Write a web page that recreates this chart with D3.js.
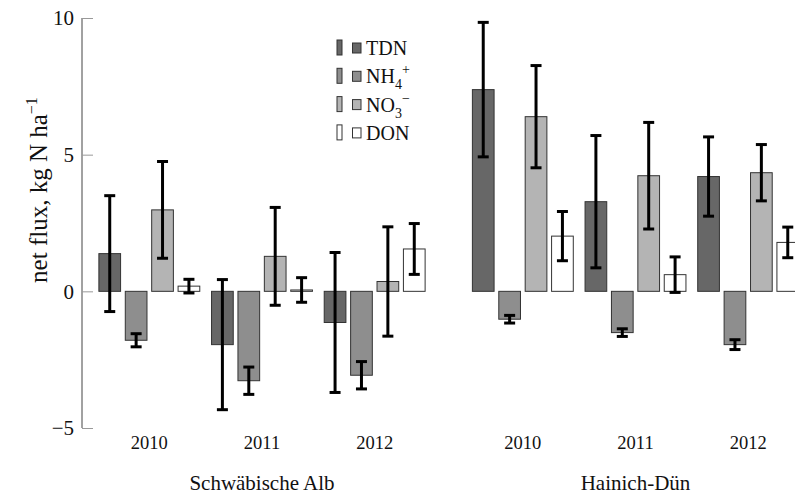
<html>
<head>
<meta charset="utf-8">
<script src='https://d3js.org/d3.v7.min.js'></script>
</head>
<body style="margin:0;background:white">
<svg width=795 height=495 font-family="Liberation Serif"></svg>
<script>
// categories
var years = ["2010", "2011", "2012"];
var sites = ["Schwäbische Alb", "Hainich-Dün"];
var series = ["TDN", "NH4", "NO3", "DON"];
var yTicks = [-5, 0, 5, 10];

// means, one array per site and series (order: 2010, 2011, 2012)
var albTDN = [1.38, -1.95, -1.14];
var albNH4 = [-1.79, -3.27, -3.07];
var albNO3 = [2.98, 1.28, 0.36];
var albDON = [0.19, 0.05, 1.55];
var haiTDN = [7.38, 3.28, 4.20];
var haiNH4 = [-1.02, -1.51, -1.95];
var haiNO3 = [6.39, 4.23, 4.34];
var haiDON = [2.02, 0.61, 1.79];

// error bar half-widths
var albTDNerr = [2.12, 2.38, 2.56];
var albNH4err = [0.24, 0.50, 0.50];
var albNO3err = [1.77, 1.79, 2.00];
var albDONerr = [0.25, 0.45, 0.93];
var haiTDNerr = [2.46, 2.42, 1.45];
var haiNH4err = [0.14, 0.14, 0.18];
var haiNO3err = [1.87, 1.95, 1.03];
var haiDONerr = [0.90, 0.65, 0.56];

var FONT = "Liberation Serif";

var svg = d3.select('svg');
var fills = {TDN: '#676767', NH4: '#8e8e8e', NO3: '#b4b4b4', DON: '#ffffff'};

var y = d3.scaleLinear().domain([-5, 10]).range([428, 18]);

var panels = [
  {name: sites[0], range: [93, 431],
   vals: [albTDN, albNH4, albNO3, albDON], errs: [albTDNerr, albNH4err, albNO3err, albDONerr]},
  {name: sites[1], range: [466.5, 804.5],
   vals: [haiTDN, haiNH4, haiNO3, haiDON], errs: [haiTDNerr, haiNH4err, haiNO3err, haiDONerr]}
];

var inner = d3.scaleBand().domain(series).range([-50.45, 50.45]).paddingInner(0.178).paddingOuter(0);

panels.forEach(function(p) {
  var x = d3.scaleBand().domain(years).range(p.range);
  var rows = [];
  series.forEach(function(s, si) {
    years.forEach(function(yr, yi) {
      rows.push({s: s, yr: yr, v: p.vals[si][yi], e: p.errs[si][yi]});
    });
  });
  var cx = function(d) { return x(d.yr) + x.bandwidth() / 2 + inner(d.s); };

  var g = svg.append('g');
  g.selectAll('rect').data(rows).enter().append('rect')
    .attr('x', cx)
    .attr('width', inner.bandwidth())
    .attr('y', function(d) { return y(Math.max(0, d.v)); })
    .attr('height', function(d) { return Math.abs(y(d.v) - y(0)); })
    .attr('fill', function(d) { return fills[d.s]; })
    .attr('stroke', '#333').attr('stroke-width', 1);

  var eb = g.selectAll('g.err').data(rows).enter().append('g').attr('class', 'err')
    .attr('stroke', '#000').attr('stroke-width', 3);
  eb.append('line')
    .attr('x1', function(d) { return cx(d) + inner.bandwidth() / 2; })
    .attr('x2', function(d) { return cx(d) + inner.bandwidth() / 2; })
    .attr('y1', function(d) { return y(d.v + d.e); })
    .attr('y2', function(d) { return y(d.v - d.e); });
  [1, -1].forEach(function(sg) {
    eb.append('line')
      .attr('x1', function(d) { return cx(d) + inner.bandwidth() / 2 - 5.5; })
      .attr('x2', function(d) { return cx(d) + inner.bandwidth() / 2 + 5.5; })
      .attr('y1', function(d) { return y(d.v + sg * d.e); })
      .attr('y2', function(d) { return y(d.v + sg * d.e); });
  });

  g.selectAll('text.yr').data(years).enter().append('text').attr('class', 'yr')
    .attr('x', function(d) { return x(d) + x.bandwidth() / 2; })
    .attr('y', 449)
    .attr('text-anchor', 'middle')
    .attr('font-family', FONT).attr('font-size', 18.5).attr('fill', '#111')
    .text(function(d) { return d; });

  g.append('text')
    .attr('x', (p.range[0] + p.range[1]) / 2)
    .attr('y', 490)
    .attr('text-anchor', 'middle')
    .attr('font-family', FONT).attr('font-size', 21).attr('fill', '#111')
    .text(p.name);
});

// y axis
var ax = svg.append('g').attr('transform', 'translate(82,0)')
  .call(d3.axisRight(y).tickValues(yTicks).tickSize(11).tickFormat(function(d) { return d < 0 ? '\u2212' + (-d) : d; }));
ax.attr('font-family', FONT).attr('font-size', 21);
ax.select('.domain').attr('stroke', '#444').attr('d', 'M0,' + y(10) + 'V' + y(-5));
ax.selectAll('.tick line').attr('stroke', '#999');
ax.selectAll('.tick text').attr('x', -8).attr('text-anchor', 'end').attr('fill', '#111');

// y label
var yl = svg.append('text')
  .attr('transform', 'translate(47,' + 190 + ') rotate(-90)')
  .attr('text-anchor', 'middle')
  .attr('font-family', FONT).attr('font-size', 25).attr('fill', '#111');
yl.append('tspan').text('net flux, kg N ha');
yl.append('tspan').attr('dy', -10).attr('font-size', 16).text('\u22121');

// legend
var leg = svg.append('g').attr('transform', 'translate(337,40)');
series.forEach(function(s, i) {
  var r = leg.append('g').attr('transform', 'translate(0,' + i * 28.3 + ')');
  r.append('rect').attr('x', 0).attr('y', 0).attr('width', 5).attr('height', 15)
    .attr('fill', fills[s]).attr('stroke', '#333');
  r.append('rect').attr('x', 15.5).attr('y', 3).attr('width', 8.5).attr('height', 10)
    .attr('fill', fills[s]).attr('stroke', '#333');
  var t = r.append('text').attr('x', 29).attr('y', 15)
    .attr('font-family', FONT).attr('font-size', 20).attr('fill', '#111');
  if (s === 'NH4' || s === 'NO3') {
    t.append('tspan').text(s.slice(0, 2));
    t.append('tspan').attr('dy', 6).attr('font-size', 14).text(s.slice(2));
    t.append('tspan').attr('dy', -15).attr('font-size', 14).text(s === 'NH4' ? '+' : '\u2212');
  } else {
    t.text(s);
  }
});
</script>
</body>
</html>
